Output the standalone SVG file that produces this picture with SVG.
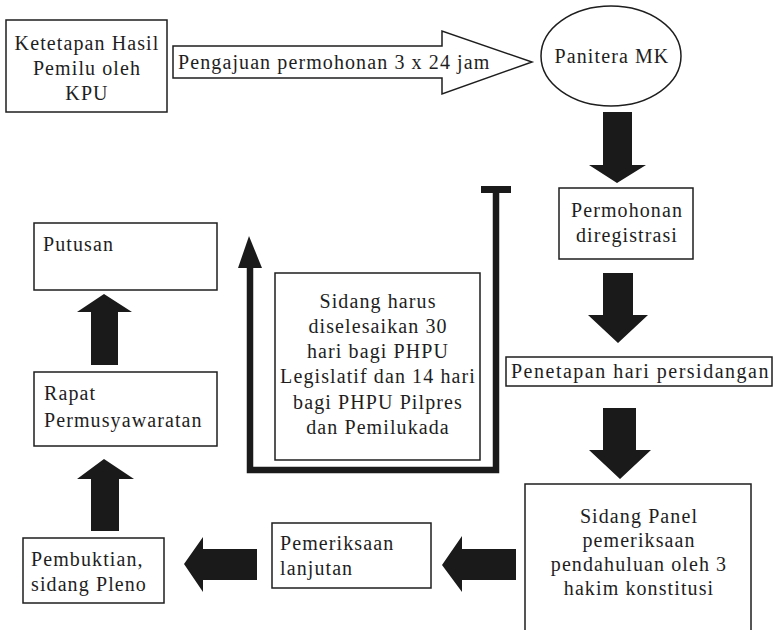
<svg xmlns="http://www.w3.org/2000/svg" width="773" height="630" viewBox="0 0 773 630">
<style>
  .box{fill:#fff;stroke:#1e1e1e;stroke-width:1.5}
  text{font-family:'Liberation Serif','DejaVu Serif',serif;font-size:20px;letter-spacing:1.1px;fill:#1e1e1e}
  .c{text-anchor:middle}
  .arr{fill:#1a1a1a;stroke:none}
  .ln{fill:none;stroke:#1a1a1a;stroke-width:6.5}
</style>
<rect width="773" height="630" fill="#fff"/>

<g id="connectors">
  <polygon id="arrow-pengajuan" points="173,46 442,46 442,31 532,62 442,94 442,78 173,78" fill="#fff" stroke="#1e1e1e" stroke-width="1.5"/>
  <text x="178" y="69">Pengajuan permohonan 3 x 24 jam</text>
  <polygon class="arr" points="603,112 632,112 632,165 646,165 617,183 589,165 603,165"/>
  <polygon class="arr" points="603,273 633,273 633,315 648,315 618,343 588,315 603,315"/>
  <polygon class="arr" points="603,408 636,408 636,450 651,450 620,479 589,450 603,450"/>
  <polygon class="arr" points="516,549 516,580 462,580 462,592 442,565 462,536 462,549"/>
  <polygon class="arr" points="257,549 257,580 203,580 203,592 184,564 203,537 203,549"/>
  <polygon class="arr" points="91,531 119,531 119,479 134,479 104,459 77,479 91,479"/>
  <polygon class="arr" points="91,365 118,365 118,312 132,312 104,294 77,312 91,312"/>
  <polyline class="ln" points="250,266 250,470 496,470 496,189"/>
  <line x1="481" y1="189.5" x2="511" y2="189.5" stroke="#1a1a1a" stroke-width="7"/>
  <polygon class="arr" points="238,268 262,268 249,236"/>
</g>

<g id="ketetapan">
  <rect class="box" x="6" y="20" width="161" height="92"/>
  <text class="c" x="87" y="50">Ketetapan Hasil</text>
  <text class="c" x="87" y="75">Pemilu oleh</text>
  <text class="c" x="87" y="100">KPU</text>
</g>

<g id="panitera">
  <ellipse cx="611" cy="56" rx="70" ry="50" fill="#fff" stroke="#1e1e1e" stroke-width="1.5"/>
  <text class="c" x="612" y="63">Panitera MK</text>
</g>

<g id="permohonan">
  <rect class="box" x="559" y="188" width="134" height="71"/>
  <text class="c" x="627" y="217">Permohonan</text>
  <text class="c" x="627" y="242">diregistrasi</text>
</g>

<g id="penetapan">
  <rect class="box" x="506" y="357" width="266" height="29"/>
  <text x="511" y="378" style="letter-spacing:1.5px">Penetapan hari persidangan</text>
</g>

<g id="sidang-panel">
  <rect class="box" x="525" y="484" width="226" height="160"/>
  <text class="c" x="639" y="523">Sidang Panel</text>
  <text class="c" x="639" y="547">pemeriksaan</text>
  <text class="c" x="639" y="571">pendahuluan oleh 3</text>
  <text class="c" x="639" y="595">hakim konstitusi</text>
</g>

<g id="pemeriksaan">
  <rect class="box" x="272" y="523" width="159" height="65"/>
  <text x="280" y="550">Pemeriksaan</text>
  <text x="280" y="575">lanjutan</text>
</g>

<g id="pembuktian">
  <rect class="box" x="23" y="538" width="141" height="65"/>
  <text x="31" y="566">Pembuktian,</text>
  <text x="31" y="591">sidang Pleno</text>
</g>

<g id="rapat">
  <rect class="box" x="34" y="372" width="183" height="74"/>
  <text x="44" y="400">Rapat</text>
  <text x="44" y="427">Permusyawaratan</text>
</g>

<g id="putusan">
  <rect class="box" x="34" y="223" width="183" height="67"/>
  <text x="43" y="251">Putusan</text>
</g>

<g id="batas-waktu">
  <rect class="box" x="275" y="273" width="205" height="187"/>
  <text class="c" x="378" y="308">Sidang harus</text>
  <text class="c" x="378" y="333">diselesaikan 30</text>
  <text class="c" x="378" y="358">hari bagi PHPU</text>
  <text class="c" x="378" y="383">Legislatif dan 14 hari</text>
  <text class="c" x="378" y="409">bagi PHPU Pilpres</text>
  <text class="c" x="378" y="434">dan Pemilukada</text>
</g>
</svg>
